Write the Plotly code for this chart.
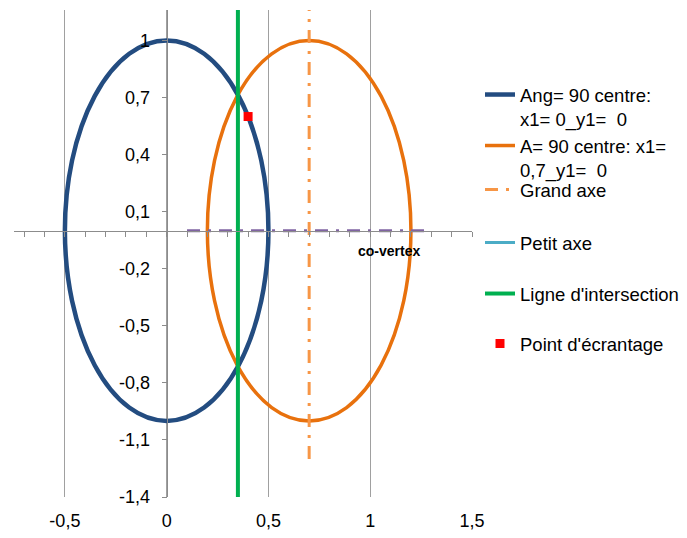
import plotly.graph_objects as go

# ---- data ----
x_ticks = [-0.5, 0, 0.5, 1, 1.5]
x_tick_labels = ["-0,5", "0", "0,5", "1", "1,5"]
y_ticks = [-1.4, -1.1, -0.8, -0.5, -0.2, 0.1, 0.4, 0.7, 1.0]
y_tick_labels = ["-1,4", "-1,1", "-0,8", "-0,5", "-0,2", "0,1", "0,4", "0,7", "1"]

ellipse_names = ["Ang= 90 centre:<br>x1= 0_y1=\u00a0\u00a00",
                 "A= 90 centre: x1=<br>0,7_y1=\u00a0\u00a00"]
ellipse_cx = [0.0, 0.7]
ellipse_cy = [0.0, 0.0]
ellipse_a = [0.5, 0.5]
ellipse_b = [1.0, 1.0]

grand_axe_x = [0.7, 0.7]
grand_axe_y = [-1.2, 1.2]
petit_axe_x = [None]
petit_axe_y = [None]
covertex_x = [0.1, 1.3]
covertex_y = [0.0, 0.0]
intersect_x = [0.35, 0.35]
intersect_y = [-1.4, 1.2]
point_x = [0.4]
point_y = [0.6]
label_text = "co-vertex"
label_x = 1.09
label_y = -0.105

# ---- styles ----
FONT = "Liberation Sans, Arial, sans-serif"
ell_colors = ["#234C80", "#E8710D"]
ell_widths = [4.5, 3.5]
GRID = "#A0A0A0"
AXIS = "#8C8C8C"
DASHDOT = "13px,8px,3px,8px"

fig = go.Figure()

shapes = []
for i in range(2):
    shapes.append(dict(type="circle", xref="x", yref="y",
                       x0=ellipse_cx[i] - ellipse_a[i], x1=ellipse_cx[i] + ellipse_a[i],
                       y0=ellipse_cy[i] - ellipse_b[i], y1=ellipse_cy[i] + ellipse_b[i],
                       line=dict(color=ell_colors[i], width=ell_widths[i]),
                       fillcolor="rgba(0,0,0,0)", layer="between"))
    fig.add_trace(go.Scatter(x=[None], y=[None], mode="lines", name=ellipse_names[i],
                             line=dict(color=ell_colors[i], width=ell_widths[i]),
                             showlegend=True,
                             legend="legend" if i == 0 else "legend2"))

fig.add_trace(go.Scatter(x=grand_axe_x, y=grand_axe_y, mode="lines", name="Grand axe",
                         line=dict(color="#F79646", width=3, dash=DASHDOT), legend="legend3"))
fig.add_trace(go.Scatter(x=petit_axe_x, y=petit_axe_y, mode="lines", name="Petit axe",
                         showlegend=True,
                         line=dict(color="#4BACC6", width=3), legend="legend4"))
fig.add_trace(go.Scatter(x=covertex_x, y=covertex_y, mode="lines", name="co-vertex axe",
                         xaxis="x2", showlegend=False,
                         line=dict(color="#8064A2", width=3, dash=DASHDOT)))
fig.add_trace(go.Scatter(x=intersect_x, y=intersect_y, mode="lines", name="Ligne d'intersection",
                         line=dict(color="#00B050", width=4), legend="legend5"))
fig.add_trace(go.Scatter(x=point_x, y=point_y, mode="markers", name="Point d'écrantage",
                         marker=dict(symbol="square", size=9, color="#FF0000"), legend="legend6"))

fig.add_annotation(x=label_x, y=label_y, xref="x", yref="y", text="<b>%s</b>" % label_text,
                   showarrow=False, font=dict(family=FONT, size=14, color="black"))

W, H = 687, 538
OFF = 8  # page body offset
L, R, T, B = 14 - OFF, W - (472 - OFF), 10 - OFF, H - (497 - OFF)

leg_centers = [95, 146, 190, 243, 294, 344]
legends = {}
for k, c in enumerate(leg_centers):
    key = "legend" if k == 0 else "legend%d" % (k + 1)
    top = c - OFF - 19
    legends[key] = dict(xref="container", yref="container",
                        x=(480 - OFF) / W, xanchor="left", y=1 - top / H, yanchor="top",
                        font=dict(family=FONT, size=18.5, color="black"),
                        bgcolor="rgba(0,0,0,0)", borderwidth=0, valign="top")

fig.update_layout(
    width=W, height=H,
    margin=dict(l=L, r=R, t=T, b=B, autoexpand=False),
    paper_bgcolor="white", plot_bgcolor="white",
    showlegend=True,
    font=dict(family=FONT, size=18, color="black"),
    shapes=shapes,
    xaxis=dict(range=[-0.75, 1.5], tickvals=x_ticks, ticktext=x_tick_labels,
               showgrid=True, gridcolor=GRID, gridwidth=1, zeroline=False,
               showline=False, ticks="", ticklabelstandoff=11,
               tickfont=dict(family=FONT, size=18, color="black")),
    xaxis2=dict(overlaying="x", matches="x", anchor="free", position=1.4 / 2.56,
                side="bottom", showline=True, linecolor=AXIS, linewidth=1,
                ticks="outside", ticklen=5, tickcolor=AXIS, tick0=0, dtick=0.1,
                showticklabels=False, showgrid=False, zeroline=False),
    yaxis=dict(range=[-1.4, 1.16], anchor="free", position=0.75 / 2.25,
               tickvals=y_ticks, ticktext=y_tick_labels,
               showgrid=False, zeroline=False, showline=True, linecolor=AXIS, linewidth=1,
               ticks="outside", ticklen=5, tickcolor=AXIS, ticklabelstandoff=8,
               tickfont=dict(family=FONT, size=18, color="black")),
    **legends,
)

fig.write_html("out.html")
